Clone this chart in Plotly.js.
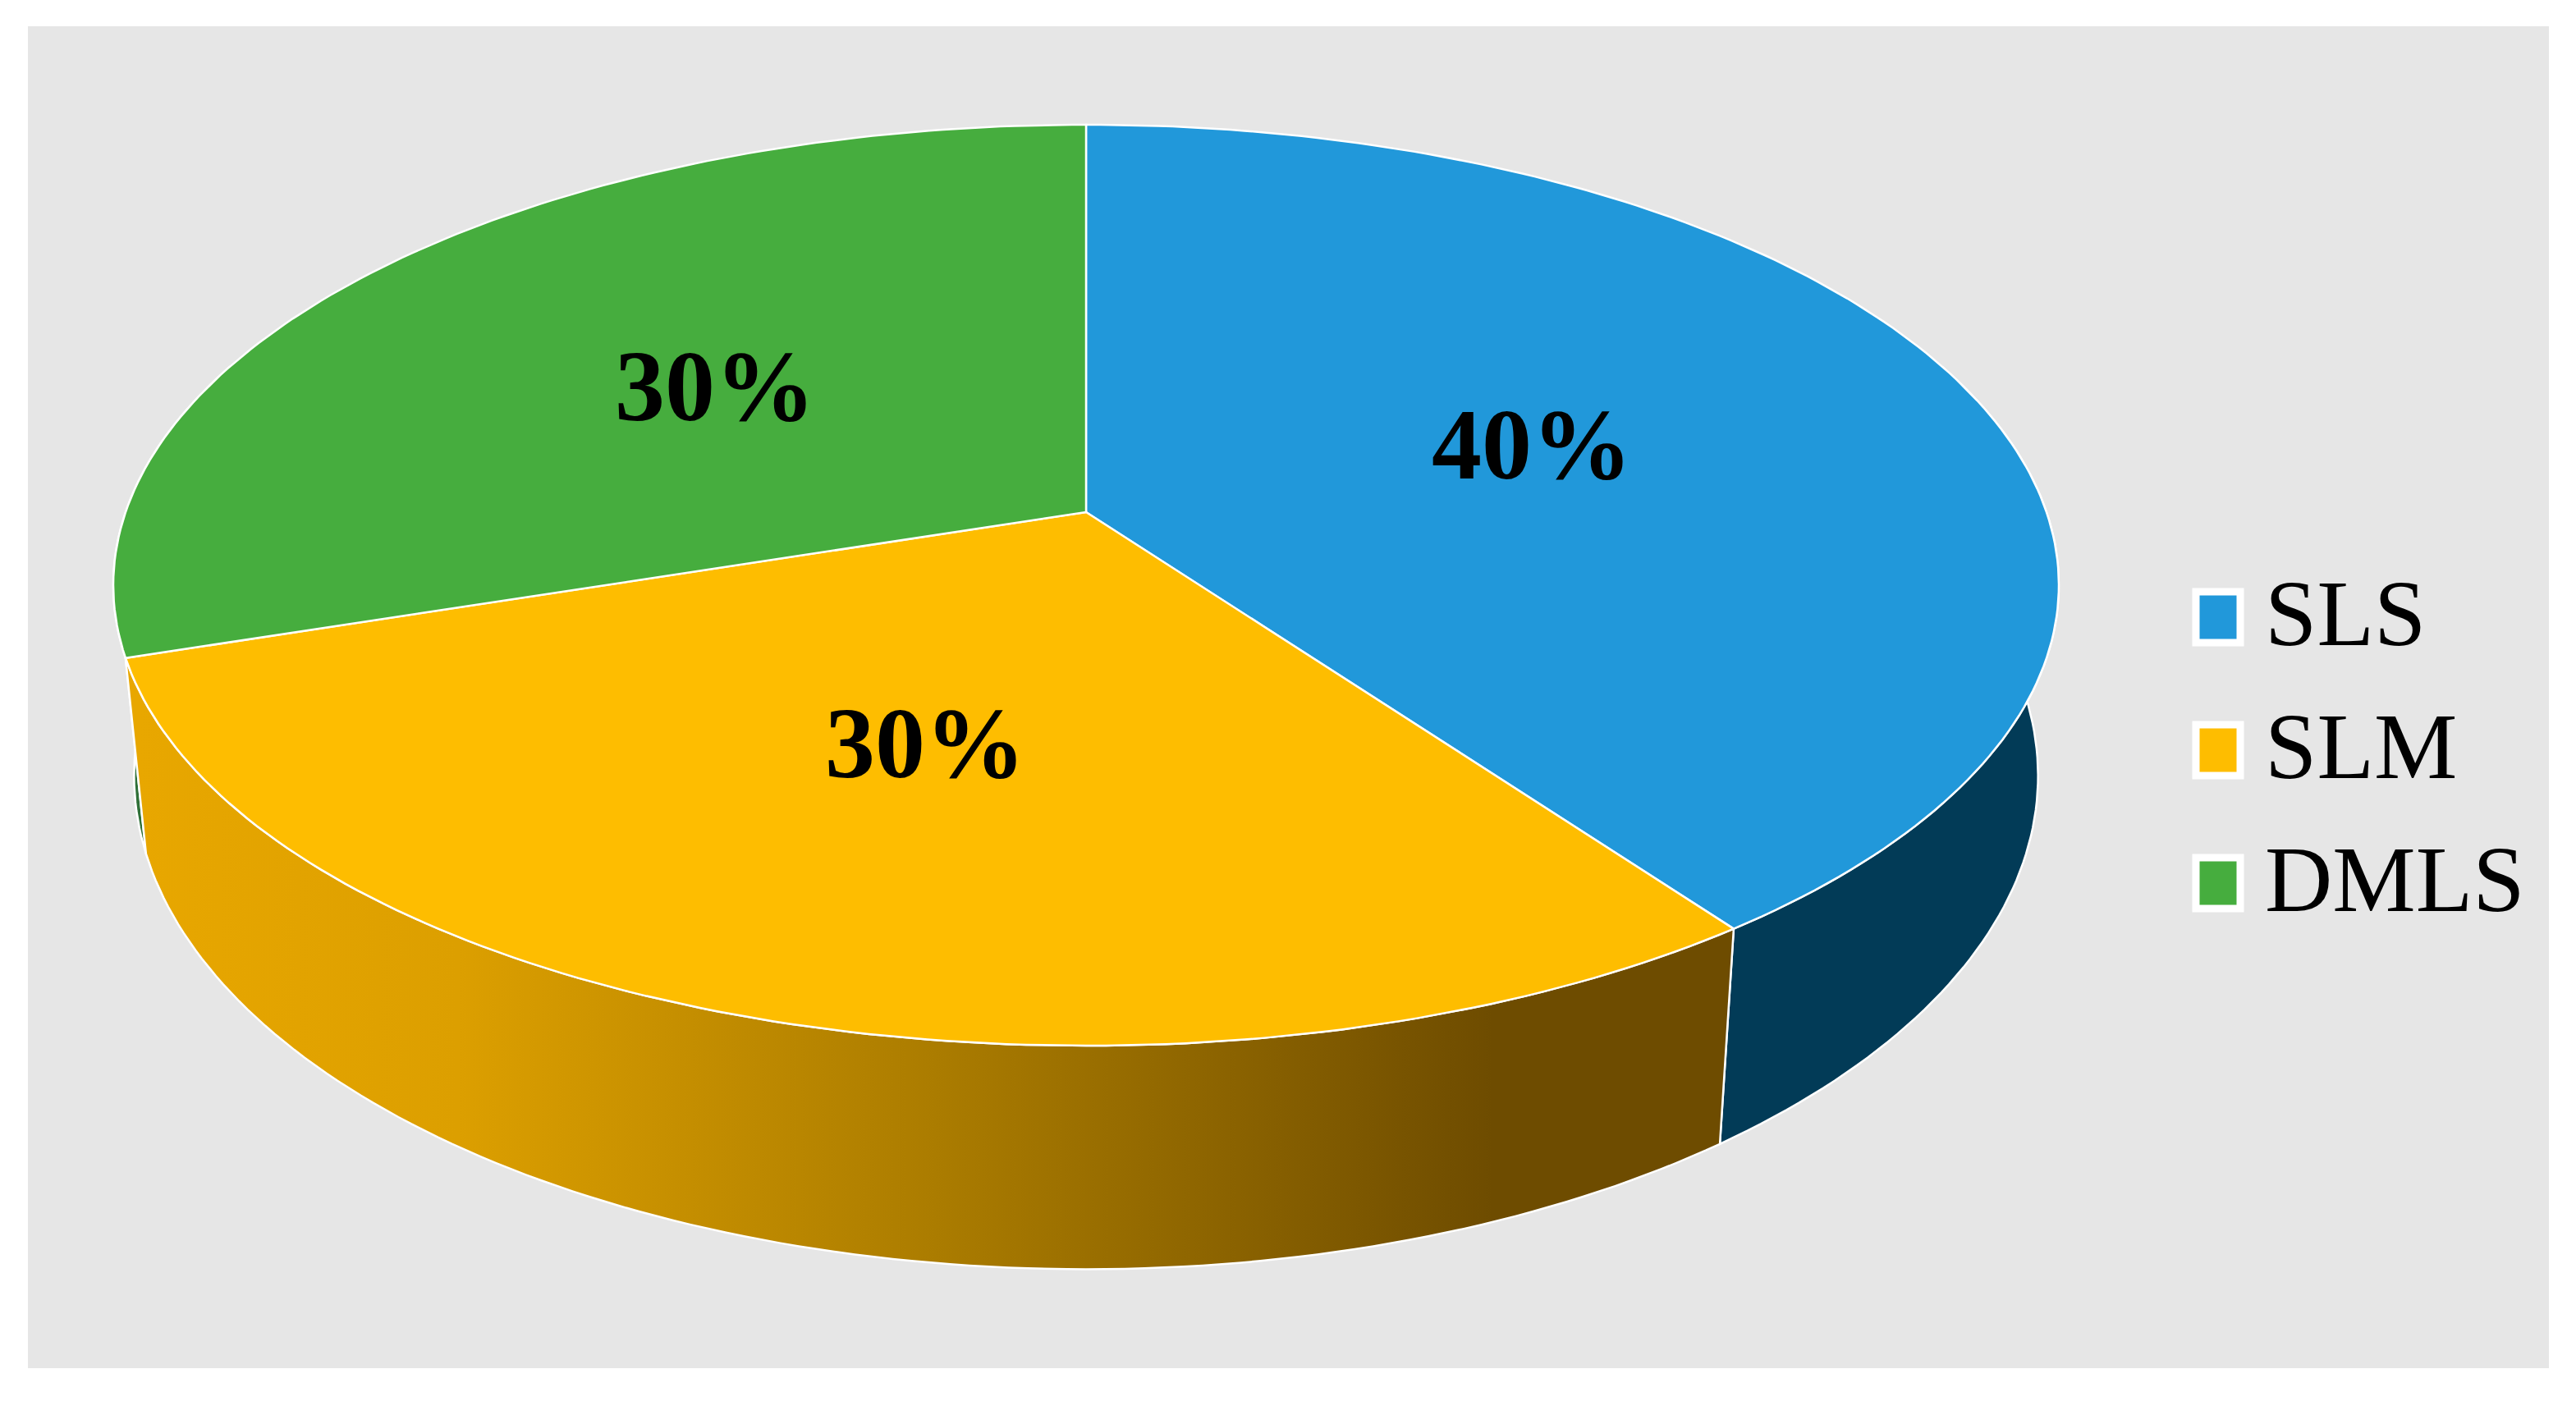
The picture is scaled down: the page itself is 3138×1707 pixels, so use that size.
<!DOCTYPE html>
<html>
<head>
<meta charset="utf-8">
<script src="https://cdn.plot.ly/plotly-3.0.1.min.js"></script>
<style>
    html, body { margin: 0; padding: 0; background: #fff; }
    #chart { width: 3138px; height: 1707px; }
</style>
</head>
<body>
<div id="chart"></div>
<script>
// Chart values
const names = ['SLS', 'SLM', 'DMLS'];
const shares = [40, 30, 30];

// Colours
const topColors = ['#2198da', '#febd00', '#46ad3e'];
const wallColors = ['#023b57', '#6e4c00', '#2f7038'];
const wallGradient = [[0, '#e8a700'], [0.2, '#dc9f00'], [0.5, '#ab7c00'], [0.85, '#6e4c00'], [1, '#6e4c00']];

// Tilted disc: unit circle seen in perspective, in page pixels
const topFace = { cx: 1323, cy: 624, w: 1170, h: 547 };
const baseFace = { cx: 1323, cy: 850, w: 1145, h: 586 };
const tilt = 0.1586;

function project(face, deg, r) {
    const a = deg * Math.PI / 180;
    const u = r * Math.sin(a), v = r * Math.cos(a);
    const d = 1 + tilt * v;
    return [face.cx + face.w * u / d, face.cy - face.h * v / d];
}

function arc(face, from, to) {
    const pts = [];
    const n = Math.max(2, Math.ceil(Math.abs(to - from)));
    for (let i = 0; i <= n; i++) {
        pts.push(project(face, from + (to - from) * i / n, 1));
    }
    return pts;
}

function polygon(pts, color, extra) {
    return Object.assign({
        x: pts.map(p => p[0]),
        y: pts.map(p => p[1]),
        type: 'scatter',
        mode: 'lines',
        fill: 'toself',
        fillcolor: color,
        line: { color: '#ffffff', width: 2.5 },
        hoverinfo: 'skip',
        showlegend: false
    }, extra || {});
}

// Slice angles, clockwise from twelve o'clock
const total = shares.reduce((s, v) => s + v, 0);
let running = 0;
const slices = shares.map(v => {
    const from = running / total * 360;
    running += v;
    return { from, to: running / total * 360, mid: (from + running / total * 360) / 2 };
});

// Walls first, the top face covers what is behind it
const wallRanges = [[70, slices[0].to], [slices[1].from, slices[1].to], [slices[2].from, 290]];
const wallOrder = [2, 0, 1];
const traces = [];
wallOrder.forEach(i => {
    const [from, to] = wallRanges[i];
    const pts = arc(topFace, from, to).concat(arc(baseFace, to, from));
    pts.push(pts[0]);
    const extra = {};
    if (i === 1) {
        extra.fillgradient = { type: 'horizontal', colorscale: wallGradient, start: 170, stop: 2110 };
    }
    traces.push(polygon(pts, wallColors[i], extra));
});

// Top face wedges
slices.forEach((s, i) => {
    const pts = [[topFace.cx, topFace.cy]].concat(arc(topFace, s.from, s.to));
    pts.push([topFace.cx, topFace.cy]);
    traces.push(polygon(pts, topColors[i]));
});

// Percent labels sit halfway out on each wedge
const annotations = slices.map((s, i) => {
    const p = project(topFace, s.mid, 0.5);
    return {
        x: p[0], y: p[1], xref: 'x', yref: 'y',
        text: '<b>' + shares[i] + '%</b>',
        showarrow: false,
        font: { family: 'Liberation Serif', size: 122, color: '#000000' }
    };
});

// Legend keys and names
const keyY = [752, 914, 1076];
const shapes = [{
    type: 'rect', layer: 'below', xref: 'x', yref: 'y',
    x0: 34, x1: 3105, y0: 32, y1: 1667,
    fillcolor: '#e6e6e6', line: { width: 0 }
}];
names.forEach((name, i) => {
    shapes.push({
        type: 'rect', layer: 'above', xref: 'x', yref: 'y',
        x0: 2675, x1: 2729, y0: keyY[i] - 31, y1: keyY[i] + 31,
        fillcolor: topColors[i], line: { color: '#ffffff', width: 9 }
    });
    annotations.push({
        x: 2757, y: keyY[i] - 5, xref: 'x', yref: 'y',
        xanchor: 'left',
        text: name,
        showarrow: false,
        font: { family: 'Liberation Serif', size: 114, color: '#000000' }
    });
});

const layout = {
    width: 3138,
    height: 1707,
    margin: { l: 0, r: 0, t: 0, b: 0 },
    paper_bgcolor: '#ffffff',
    plot_bgcolor: 'rgba(0,0,0,0)',
    xaxis: { range: [0, 3138], visible: false, fixedrange: true },
    yaxis: { range: [1707, 0], visible: false, fixedrange: true },
    shapes: shapes,
    annotations: annotations,
    showlegend: false
};

Plotly.newPlot('chart', traces, layout, { displayModeBar: false, staticPlot: true });
</script>
</body>
</html>
